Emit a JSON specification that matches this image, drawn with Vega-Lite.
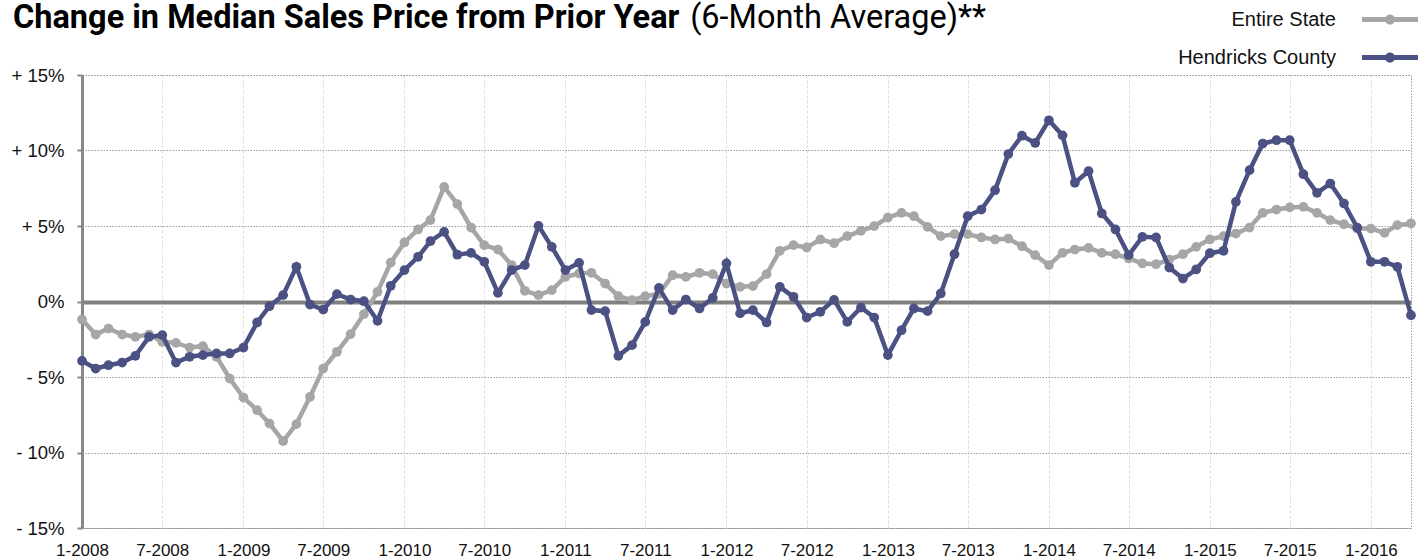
{
  "$schema": "https://vega.github.io/schema/vega-lite/v6.json",
  "width": 1329,
  "height": 453,
  "autosize": {"type": "none"},
  "padding": {"left": 82, "top": 75, "right": 12, "bottom": 31},
  "background": "white",
  "config": {
    "view": {"stroke": "#9a9a9a", "strokeDash": [1.5, 1.5], "strokeWidth": 1},
    "font": "Liberation Sans"
  },
  "title": {
    "text": "Change in Median Sales Price from Prior Year",
    "subtitle": "\u200b\u00a0\u00a0\u00a0\u00a0\u00a0\u00a0\u00a0\u00a0\u00a0\u00a0\u00a0\u00a0\u00a0\u00a0\u00a0\u00a0\u00a0\u00a0\u00a0\u00a0\u00a0\u00a0\u00a0\u00a0\u00a0\u00a0\u00a0\u00a0\u00a0\u00a0\u00a0\u00a0\u00a0\u00a0\u00a0\u00a0\u00a0\u00a0\u00a0\u00a0\u00a0\u00a0\u00a0\u00a0\u00a0\u00a0\u00a0\u00a0\u00a0\u00a0\u00a0\u00a0\u00a0\u00a0\u00a0\u00a0\u00a0\u00a0\u00a0\u00a0\u00a0\u00a0\u00a0\u00a0\u00a0\u00a0\u00a0\u00a0\u00a0\u00a0\u00a0\u00a0\u00a0\u00a0\u00a0\u00a0\u00a0\u00a0\u00a0\u00a0\u00a0\u00a0\u00a0\u00a0(6-Month Average)**",
    "anchor": "start",
    "frame": "group",
    "font": "Roboto",
    "fontSize": 32.5,
    "fontWeight": "bold",
    "color": "#000000",
    "subtitleFont": "Roboto",
    "subtitleFontSize": 32.5,
    "subtitleFontWeight": "normal",
    "subtitleColor": "#000000",
    "subtitlePadding": -32.5,
    "dx": -69,
    "offset": -42.5
  },
  "data": {
    "values": [
      {"month": "2008-01-01", "series": "Entire State", "value": -1.19},
      {"month": "2008-02-01", "series": "Entire State", "value": -2.19},
      {"month": "2008-03-01", "series": "Entire State", "value": -1.79},
      {"month": "2008-04-01", "series": "Entire State", "value": -2.19},
      {"month": "2008-05-01", "series": "Entire State", "value": -2.34},
      {"month": "2008-06-01", "series": "Entire State", "value": -2.19},
      {"month": "2008-07-01", "series": "Entire State", "value": -2.67},
      {"month": "2008-08-01", "series": "Entire State", "value": -2.74},
      {"month": "2008-09-01", "series": "Entire State", "value": -3.05},
      {"month": "2008-10-01", "series": "Entire State", "value": -2.96},
      {"month": "2008-11-01", "series": "Entire State", "value": -3.66},
      {"month": "2008-12-01", "series": "Entire State", "value": -5.10},
      {"month": "2009-01-01", "series": "Entire State", "value": -6.36},
      {"month": "2009-02-01", "series": "Entire State", "value": -7.20},
      {"month": "2009-03-01", "series": "Entire State", "value": -8.08},
      {"month": "2009-04-01", "series": "Entire State", "value": -9.25},
      {"month": "2009-05-01", "series": "Entire State", "value": -8.12},
      {"month": "2009-06-01", "series": "Entire State", "value": -6.31},
      {"month": "2009-07-01", "series": "Entire State", "value": -4.44},
      {"month": "2009-08-01", "series": "Entire State", "value": -3.33},
      {"month": "2009-09-01", "series": "Entire State", "value": -2.16},
      {"month": "2009-10-01", "series": "Entire State", "value": -0.84},
      {"month": "2009-11-01", "series": "Entire State", "value": 0.64},
      {"month": "2009-12-01", "series": "Entire State", "value": 2.58},
      {"month": "2010-01-01", "series": "Entire State", "value": 3.91},
      {"month": "2010-02-01", "series": "Entire State", "value": 4.77},
      {"month": "2010-03-01", "series": "Entire State", "value": 5.39},
      {"month": "2010-04-01", "series": "Entire State", "value": 7.59},
      {"month": "2010-05-01", "series": "Entire State", "value": 6.45},
      {"month": "2010-06-01", "series": "Entire State", "value": 4.90},
      {"month": "2010-07-01", "series": "Entire State", "value": 3.73},
      {"month": "2010-08-01", "series": "Entire State", "value": 3.44},
      {"month": "2010-09-01", "series": "Entire State", "value": 2.41},
      {"month": "2010-10-01", "series": "Entire State", "value": 0.71},
      {"month": "2010-11-01", "series": "Entire State", "value": 0.42},
      {"month": "2010-12-01", "series": "Entire State", "value": 0.75},
      {"month": "2011-01-01", "series": "Entire State", "value": 1.63},
      {"month": "2011-02-01", "series": "Entire State", "value": 1.85},
      {"month": "2011-03-01", "series": "Entire State", "value": 1.90},
      {"month": "2011-04-01", "series": "Entire State", "value": 1.19},
      {"month": "2011-05-01", "series": "Entire State", "value": 0.35},
      {"month": "2011-06-01", "series": "Entire State", "value": 0.09},
      {"month": "2011-07-01", "series": "Entire State", "value": 0.35},
      {"month": "2011-08-01", "series": "Entire State", "value": 0.50},
      {"month": "2011-09-01", "series": "Entire State", "value": 1.74},
      {"month": "2011-10-01", "series": "Entire State", "value": 1.63},
      {"month": "2011-11-01", "series": "Entire State", "value": 1.90},
      {"month": "2011-12-01", "series": "Entire State", "value": 1.81},
      {"month": "2012-01-01", "series": "Entire State", "value": 1.19},
      {"month": "2012-02-01", "series": "Entire State", "value": 0.97},
      {"month": "2012-03-01", "series": "Entire State", "value": 1.02},
      {"month": "2012-04-01", "series": "Entire State", "value": 1.81},
      {"month": "2012-05-01", "series": "Entire State", "value": 3.36},
      {"month": "2012-06-01", "series": "Entire State", "value": 3.73},
      {"month": "2012-07-01", "series": "Entire State", "value": 3.58},
      {"month": "2012-08-01", "series": "Entire State", "value": 4.11},
      {"month": "2012-09-01", "series": "Entire State", "value": 3.86},
      {"month": "2012-10-01", "series": "Entire State", "value": 4.33},
      {"month": "2012-11-01", "series": "Entire State", "value": 4.68},
      {"month": "2012-12-01", "series": "Entire State", "value": 4.99},
      {"month": "2013-01-01", "series": "Entire State", "value": 5.56},
      {"month": "2013-02-01", "series": "Entire State", "value": 5.87},
      {"month": "2013-03-01", "series": "Entire State", "value": 5.65},
      {"month": "2013-04-01", "series": "Entire State", "value": 4.94},
      {"month": "2013-05-01", "series": "Entire State", "value": 4.33},
      {"month": "2013-06-01", "series": "Entire State", "value": 4.46},
      {"month": "2013-07-01", "series": "Entire State", "value": 4.46},
      {"month": "2013-08-01", "series": "Entire State", "value": 4.24},
      {"month": "2013-09-01", "series": "Entire State", "value": 4.11},
      {"month": "2013-10-01", "series": "Entire State", "value": 4.17},
      {"month": "2013-11-01", "series": "Entire State", "value": 3.66},
      {"month": "2013-12-01", "series": "Entire State", "value": 3.07},
      {"month": "2014-01-01", "series": "Entire State", "value": 2.41},
      {"month": "2014-02-01", "series": "Entire State", "value": 3.22},
      {"month": "2014-03-01", "series": "Entire State", "value": 3.44},
      {"month": "2014-04-01", "series": "Entire State", "value": 3.55},
      {"month": "2014-05-01", "series": "Entire State", "value": 3.22},
      {"month": "2014-06-01", "series": "Entire State", "value": 3.13},
      {"month": "2014-07-01", "series": "Entire State", "value": 2.85},
      {"month": "2014-08-01", "series": "Entire State", "value": 2.52},
      {"month": "2014-09-01", "series": "Entire State", "value": 2.47},
      {"month": "2014-10-01", "series": "Entire State", "value": 2.78},
      {"month": "2014-11-01", "series": "Entire State", "value": 3.13},
      {"month": "2014-12-01", "series": "Entire State", "value": 3.62},
      {"month": "2015-01-01", "series": "Entire State", "value": 4.11},
      {"month": "2015-02-01", "series": "Entire State", "value": 4.33},
      {"month": "2015-03-01", "series": "Entire State", "value": 4.50},
      {"month": "2015-04-01", "series": "Entire State", "value": 4.90},
      {"month": "2015-05-01", "series": "Entire State", "value": 5.87},
      {"month": "2015-06-01", "series": "Entire State", "value": 6.09},
      {"month": "2015-07-01", "series": "Entire State", "value": 6.23},
      {"month": "2015-08-01", "series": "Entire State", "value": 6.27},
      {"month": "2015-09-01", "series": "Entire State", "value": 5.87},
      {"month": "2015-10-01", "series": "Entire State", "value": 5.39},
      {"month": "2015-11-01", "series": "Entire State", "value": 5.12},
      {"month": "2015-12-01", "series": "Entire State", "value": 4.83},
      {"month": "2016-01-01", "series": "Entire State", "value": 4.83},
      {"month": "2016-02-01", "series": "Entire State", "value": 4.55},
      {"month": "2016-03-01", "series": "Entire State", "value": 5.06},
      {"month": "2016-04-01", "series": "Entire State", "value": 5.17},
      {"month": "2008-01-01", "series": "Hendricks County", "value": -3.93},
      {"month": "2008-02-01", "series": "Hendricks County", "value": -4.44},
      {"month": "2008-03-01", "series": "Hendricks County", "value": -4.22},
      {"month": "2008-04-01", "series": "Hendricks County", "value": -4.04},
      {"month": "2008-05-01", "series": "Hendricks County", "value": -3.60},
      {"month": "2008-06-01", "series": "Hendricks County", "value": -2.34},
      {"month": "2008-07-01", "series": "Hendricks County", "value": -2.23},
      {"month": "2008-08-01", "series": "Hendricks County", "value": -4.04},
      {"month": "2008-09-01", "series": "Hendricks County", "value": -3.66},
      {"month": "2008-10-01", "series": "Hendricks County", "value": -3.55},
      {"month": "2008-11-01", "series": "Hendricks County", "value": -3.44},
      {"month": "2008-12-01", "series": "Hendricks County", "value": -3.44},
      {"month": "2009-01-01", "series": "Hendricks County", "value": -3.05},
      {"month": "2009-02-01", "series": "Hendricks County", "value": -1.39},
      {"month": "2009-03-01", "series": "Hendricks County", "value": -0.31},
      {"month": "2009-04-01", "series": "Hendricks County", "value": 0.42},
      {"month": "2009-05-01", "series": "Hendricks County", "value": 2.30},
      {"month": "2009-06-01", "series": "Hendricks County", "value": -0.20},
      {"month": "2009-07-01", "series": "Hendricks County", "value": -0.53},
      {"month": "2009-08-01", "series": "Hendricks County", "value": 0.49},
      {"month": "2009-09-01", "series": "Hendricks County", "value": 0.13},
      {"month": "2009-10-01", "series": "Hendricks County", "value": 0.02},
      {"month": "2009-11-01", "series": "Hendricks County", "value": -1.28},
      {"month": "2009-12-01", "series": "Hendricks County", "value": 1.04},
      {"month": "2010-01-01", "series": "Hendricks County", "value": 2.08},
      {"month": "2010-02-01", "series": "Hendricks County", "value": 2.96},
      {"month": "2010-03-01", "series": "Hendricks County", "value": 4.00},
      {"month": "2010-04-01", "series": "Hendricks County", "value": 4.61},
      {"month": "2010-05-01", "series": "Hendricks County", "value": 3.10},
      {"month": "2010-06-01", "series": "Hendricks County", "value": 3.22},
      {"month": "2010-07-01", "series": "Hendricks County", "value": 2.63},
      {"month": "2010-08-01", "series": "Hendricks County", "value": 0.57},
      {"month": "2010-09-01", "series": "Hendricks County", "value": 2.08},
      {"month": "2010-10-01", "series": "Hendricks County", "value": 2.41},
      {"month": "2010-11-01", "series": "Hendricks County", "value": 5.01},
      {"month": "2010-12-01", "series": "Hendricks County", "value": 3.62},
      {"month": "2011-01-01", "series": "Hendricks County", "value": 2.08},
      {"month": "2011-02-01", "series": "Hendricks County", "value": 2.56},
      {"month": "2011-03-01", "series": "Hendricks County", "value": -0.57},
      {"month": "2011-04-01", "series": "Hendricks County", "value": -0.64},
      {"month": "2011-05-01", "series": "Hendricks County", "value": -3.60},
      {"month": "2011-06-01", "series": "Hendricks County", "value": -2.89},
      {"month": "2011-07-01", "series": "Hendricks County", "value": -1.35},
      {"month": "2011-08-01", "series": "Hendricks County", "value": 0.90},
      {"month": "2011-09-01", "series": "Hendricks County", "value": -0.57},
      {"month": "2011-10-01", "series": "Hendricks County", "value": 0.13},
      {"month": "2011-11-01", "series": "Hendricks County", "value": -0.46},
      {"month": "2011-12-01", "series": "Hendricks County", "value": 0.24},
      {"month": "2012-01-01", "series": "Hendricks County", "value": 2.52},
      {"month": "2012-02-01", "series": "Hendricks County", "value": -0.79},
      {"month": "2012-03-01", "series": "Hendricks County", "value": -0.57},
      {"month": "2012-04-01", "series": "Hendricks County", "value": -1.39},
      {"month": "2012-05-01", "series": "Hendricks County", "value": 0.97},
      {"month": "2012-06-01", "series": "Hendricks County", "value": 0.31},
      {"month": "2012-07-01", "series": "Hendricks County", "value": -1.06},
      {"month": "2012-08-01", "series": "Hendricks County", "value": -0.68},
      {"month": "2012-09-01", "series": "Hendricks County", "value": 0.11},
      {"month": "2012-10-01", "series": "Hendricks County", "value": -1.35},
      {"month": "2012-11-01", "series": "Hendricks County", "value": -0.40},
      {"month": "2012-12-01", "series": "Hendricks County", "value": -1.06},
      {"month": "2013-01-01", "series": "Hendricks County", "value": -3.55},
      {"month": "2013-02-01", "series": "Hendricks County", "value": -1.90},
      {"month": "2013-03-01", "series": "Hendricks County", "value": -0.46},
      {"month": "2013-04-01", "series": "Hendricks County", "value": -0.64},
      {"month": "2013-05-01", "series": "Hendricks County", "value": 0.53},
      {"month": "2013-06-01", "series": "Hendricks County", "value": 3.13},
      {"month": "2013-07-01", "series": "Hendricks County", "value": 5.65},
      {"month": "2013-08-01", "series": "Hendricks County", "value": 6.09},
      {"month": "2013-09-01", "series": "Hendricks County", "value": 7.37},
      {"month": "2013-10-01", "series": "Hendricks County", "value": 9.76},
      {"month": "2013-11-01", "series": "Hendricks County", "value": 10.98},
      {"month": "2013-12-01", "series": "Hendricks County", "value": 10.50},
      {"month": "2014-01-01", "series": "Hendricks County", "value": 12.00},
      {"month": "2014-02-01", "series": "Hendricks County", "value": 11.00},
      {"month": "2014-03-01", "series": "Hendricks County", "value": 7.86},
      {"month": "2014-04-01", "series": "Hendricks County", "value": 8.63},
      {"month": "2014-05-01", "series": "Hendricks County", "value": 5.83},
      {"month": "2014-06-01", "series": "Hendricks County", "value": 4.77},
      {"month": "2014-07-01", "series": "Hendricks County", "value": 3.07},
      {"month": "2014-08-01", "series": "Hendricks County", "value": 4.28},
      {"month": "2014-09-01", "series": "Hendricks County", "value": 4.24},
      {"month": "2014-10-01", "series": "Hendricks County", "value": 2.25},
      {"month": "2014-11-01", "series": "Hendricks County", "value": 1.52},
      {"month": "2014-12-01", "series": "Hendricks County", "value": 2.12},
      {"month": "2015-01-01", "series": "Hendricks County", "value": 3.20},
      {"month": "2015-02-01", "series": "Hendricks County", "value": 3.36},
      {"month": "2015-03-01", "series": "Hendricks County", "value": 6.60},
      {"month": "2015-04-01", "series": "Hendricks County", "value": 8.70},
      {"month": "2015-05-01", "series": "Hendricks County", "value": 10.46},
      {"month": "2015-06-01", "series": "Hendricks County", "value": 10.68},
      {"month": "2015-07-01", "series": "Hendricks County", "value": 10.68},
      {"month": "2015-08-01", "series": "Hendricks County", "value": 8.43},
      {"month": "2015-09-01", "series": "Hendricks County", "value": 7.20},
      {"month": "2015-10-01", "series": "Hendricks County", "value": 7.81},
      {"month": "2015-11-01", "series": "Hendricks County", "value": 6.49},
      {"month": "2015-12-01", "series": "Hendricks County", "value": 4.90},
      {"month": "2016-01-01", "series": "Hendricks County", "value": 2.63},
      {"month": "2016-02-01", "series": "Hendricks County", "value": 2.63},
      {"month": "2016-03-01", "series": "Hendricks County", "value": 2.30},
      {"month": "2016-04-01", "series": "Hendricks County", "value": -0.91}
    ]
  },
  "encoding": {
    "x": {
      "field": "month",
      "type": "temporal",
      "scale": {
        "type": "utc",
        "domain": [
          {"year": 2008, "month": 1, "date": 1, "utc": true},
          {"year": 2016, "month": 4, "date": 1, "utc": true}
        ]
      },
      "axis": {
        "title": null,
        "values": [
          {"year": 2008, "month": 1, "date": 1, "utc": true},
          {"year": 2008, "month": 7, "date": 1, "utc": true},
          {"year": 2009, "month": 1, "date": 1, "utc": true},
          {"year": 2009, "month": 7, "date": 1, "utc": true},
          {"year": 2010, "month": 1, "date": 1, "utc": true},
          {"year": 2010, "month": 7, "date": 1, "utc": true},
          {"year": 2011, "month": 1, "date": 1, "utc": true},
          {"year": 2011, "month": 7, "date": 1, "utc": true},
          {"year": 2012, "month": 1, "date": 1, "utc": true},
          {"year": 2012, "month": 7, "date": 1, "utc": true},
          {"year": 2013, "month": 1, "date": 1, "utc": true},
          {"year": 2013, "month": 7, "date": 1, "utc": true},
          {"year": 2014, "month": 1, "date": 1, "utc": true},
          {"year": 2014, "month": 7, "date": 1, "utc": true},
          {"year": 2015, "month": 1, "date": 1, "utc": true},
          {"year": 2015, "month": 7, "date": 1, "utc": true},
          {"year": 2016, "month": 1, "date": 1, "utc": true}
        ],
        "labelExpr": "utcFormat(datum.value, '%-m-%Y')",
        "domain": false,
        "ticks": false,
        "labelPadding": 14,
        "labelFontSize": 17,
        "labelColor": "#111111",
        "labelFont": "Liberation Sans",
        "labelFlush": false,
        "labelOverlap": false,
        "gridColor": "#dddddd",
        "gridDash": [3, 2],
        "gridWidth": 1
      }
    },
    "y": {
      "field": "value",
      "type": "quantitative",
      "scale": {"domain": [-15, 15], "nice": false},
      "axis": {
        "title": null,
        "values": [-15, -10, -5, 0, 5, 10, 15],
        "labelExpr": "datum.value > 0 ? '+ ' + datum.value + '%' : (datum.value < 0 ? '- ' + abs(datum.value) + '%' : '0%')",
        "domainColor": "#888888",
        "domainWidth": 3,
        "tickColor": "#888888",
        "tickSize": 5,
        "tickWidth": 2,
        "labelPadding": 13,
        "labelFontSize": 18.5,
        "labelColor": "#111111",
        "labelFont": "Liberation Sans",
        "gridColor": {"condition": {"test": "datum.value === 0", "value": "#808080"}, "value": "#9a9a9a"},
        "gridWidth": {"condition": {"test": "datum.value === 0", "value": 4}, "value": 1},
        "gridDash": {"condition": {"test": "datum.value === 0", "value": []}, "value": [1.5, 1.5]}
      }
    },
    "color": {
      "field": "series",
      "type": "nominal",
      "scale": {"domain": ["Entire State", "Hendricks County"], "range": ["#a6a6a6", "#4b5183"]},
      "legend": {
        "title": null,
        "orient": "none",
        "legendX": 1280,
        "legendY": -83.5,
        "padding": 0,
        "symbolType": "M-1,-0.085L1,-0.085L1,0.085L-1,0.085Z M-0.18,0A0.18,0.18 0 1,1 0.18,0A0.18,0.18 0 1,1 -0.18,0Z",
        "symbolSize": 3136,
        "symbolStrokeWidth": 0,
        "labelAlign": "right",
        "labelOffset": -82,
        "labelFontSize": 20,
        "labelFont": "Liberation Sans",
        "labelColor": "#111111",
        "labelLimit": 400,
        "rowPadding": -2,
        "encode": {
          "symbols": {
            "update": {
              "fill": {"scale": "color", "field": "value"},
              "stroke": {"value": "transparent"},
              "opacity": {"value": 1}
            }
          }
        }
      }
    }
  },
  "layer": [
    {
      "transform": [{"filter": "datum.series === 'Entire State'"}],
      "mark": {"type": "line", "strokeWidth": 4.5, "point": {"filled": true, "size": 95, "opacity": 1}}
    },
    {
      "transform": [{"filter": "datum.series === 'Hendricks County'"}],
      "mark": {"type": "line", "strokeWidth": 4.5, "point": {"filled": true, "size": 95, "opacity": 1}}
    }
  ]
}
